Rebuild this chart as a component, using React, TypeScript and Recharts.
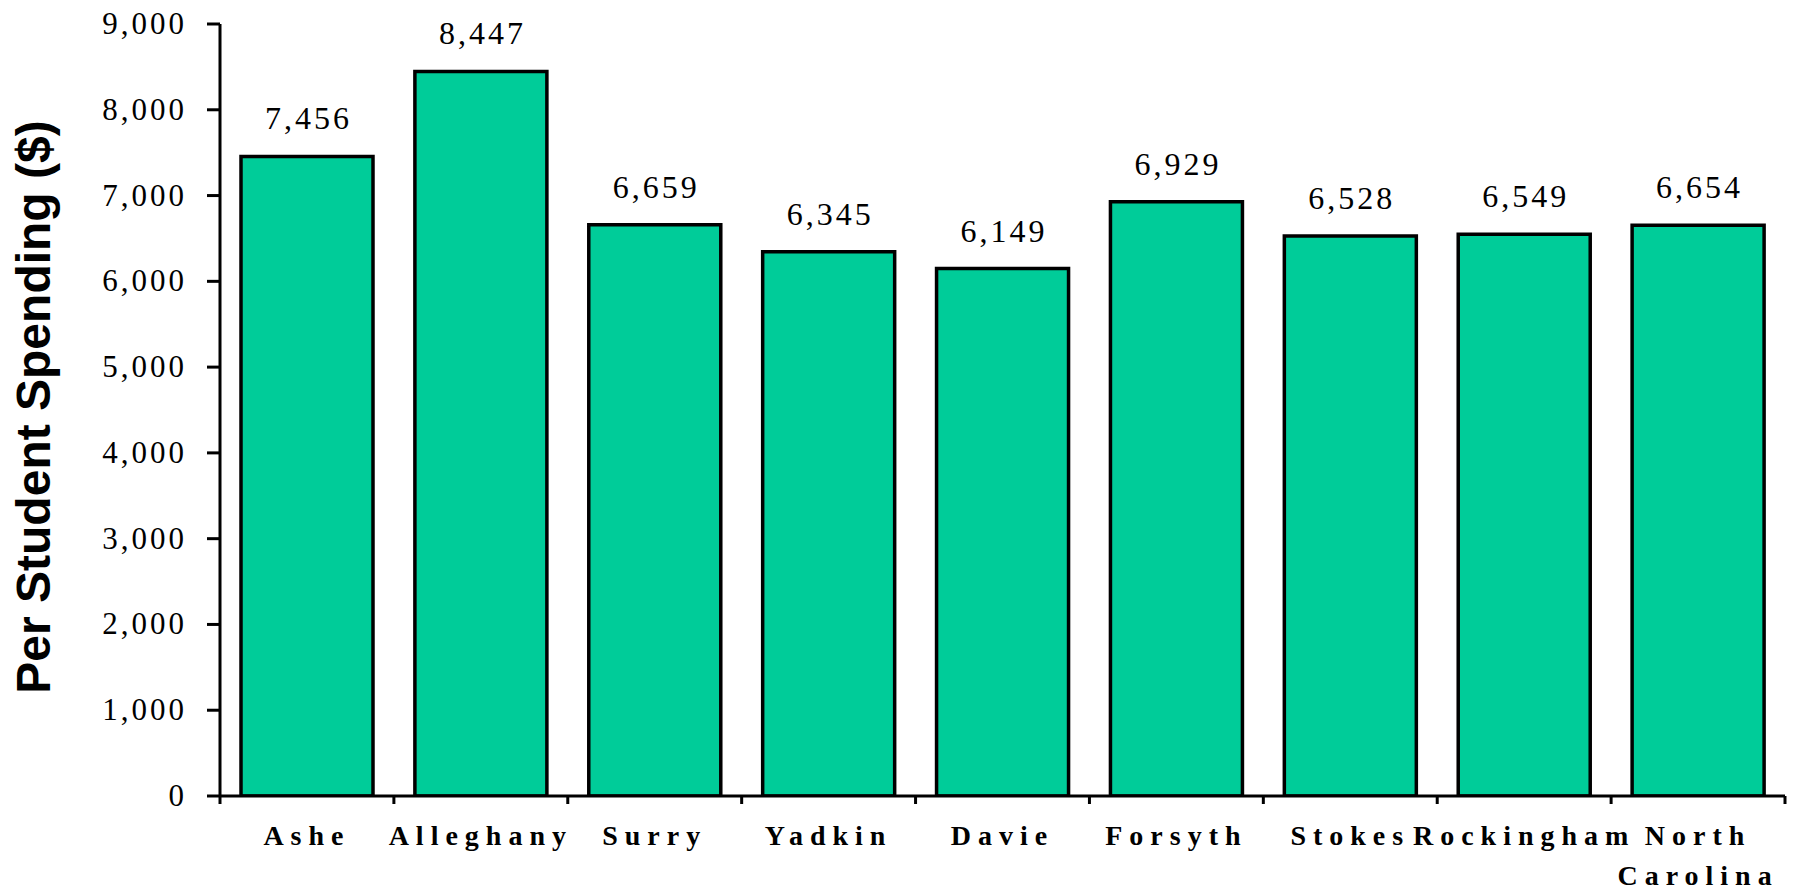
import React from 'react';
import { BarChart, Bar, XAxis, YAxis, LabelList } from 'recharts';

const categories = ['Ashe', 'Alleghany', 'Surry', 'Yadkin', 'Davie', 'Forsyth', 'Stokes', 'Rockingham', 'North Carolina'];
const spending = [7456, 8447, 6659, 6345, 6149, 6929, 6528, 6549, 6654];
const yTicks = [0, 1000, 2000, 3000, 4000, 5000, 6000, 7000, 8000, 9000];

const data = categories.map((name, i) => ({ name, value: spending[i] }));

const W = 1794;
const H = 891;
const MARGIN = { top: 24, right: 9, bottom: 0, left: 0 };
const Y_AXIS_W = 220;
const X_AXIS_H = 95;
const PLOT_W = W - MARGIN.left - MARGIN.right - Y_AXIS_W;

const serif = '"Liberation Serif", "Times New Roman", serif';
const sans = '"Liberation Sans", Arial, sans-serif';

const fmt = (v: number) => v.toLocaleString('en-US');

const XTick = (props: any) => {
  const { x, y, payload, index } = props;
  const band = PLOT_W / categories.length;
  const words: string[] = String(payload.value).split(' ');
  return (
    <g>
      <line x1={x - band / 2} y1={y} x2={x - band / 2} y2={y + 8} stroke="#000" strokeWidth={3} />
      {index === categories.length - 1 && (
        <line x1={x + band / 2} y1={y} x2={x + band / 2} y2={y + 8} stroke="#000" strokeWidth={3} />
      )}
      <text
        x={x}
        y={y + 49}
        textAnchor="middle"
        fontFamily={serif}
        fontWeight="bold"
        fontSize={28}
        letterSpacing={7}
        fill="#000"
      >
        {words.map((w, i) => (
          <tspan key={i} x={x} dy={i === 0 ? 0 : 40}>
            {w}
          </tspan>
        ))}
      </text>
    </g>
  );
};

const YTick = (props: any) => {
  const { x, y, payload } = props;
  return (
    <text
      x={x}
      y={y}
      dy={10}
      textAnchor="end"
      fontFamily={serif}
      fontSize={31}
      letterSpacing={3}
      fill="#000"
    >
      {fmt(payload.value)}
    </text>
  );
};

const renderValueLabel = (props: any) => {
  const { x, y, width, value } = props;
  return (
    <text
      x={x + width / 2 + 1.5}
      y={y - 27}
      textAnchor="middle"
      fontFamily={serif}
      fontSize={32}
      letterSpacing={3}
      fill="#000"
    >
      {fmt(value)}
    </text>
  );
};

const renderYTitle = () => (
  <text
    x={50}
    y={407}
    transform="rotate(-90, 50, 407)"
    textAnchor="middle"
    fontFamily={sans}
    fontWeight="bold"
    fontSize={48}
    fill="#000"
  >
    Per Student Spending ($)
  </text>
);

export default function App() {
  return (
    <div style={{ position: 'absolute', left: 0, top: 0, width: W, height: H, background: '#fff' }}>
      <BarChart width={W} height={H} data={data} margin={MARGIN} barSize={132}>
        <XAxis
          dataKey="name"
          height={X_AXIS_H}
          axisLine={{ stroke: '#000', strokeWidth: 3 }}
          tickLine={false}
          tickSize={0}
          tickMargin={0}
          interval={0}
          tick={<XTick />}
        />
        <YAxis
          width={Y_AXIS_W}
          domain={[0, 9000]}
          ticks={yTicks}
          interval={0}
          allowDataOverflow
          axisLine={{ stroke: '#000', strokeWidth: 3 }}
          tickLine={{ stroke: '#000', strokeWidth: 3 }}
          tickSize={13}
          tickMargin={20}
          tick={<YTick />}
          label={{ content: renderYTitle }}
        />
        <Bar dataKey="value" fill="#00CC99" stroke="#000" strokeWidth={3.5} isAnimationActive={false}>
          <LabelList dataKey="value" content={renderValueLabel} />
        </Bar>
      </BarChart>
    </div>
  );
}
